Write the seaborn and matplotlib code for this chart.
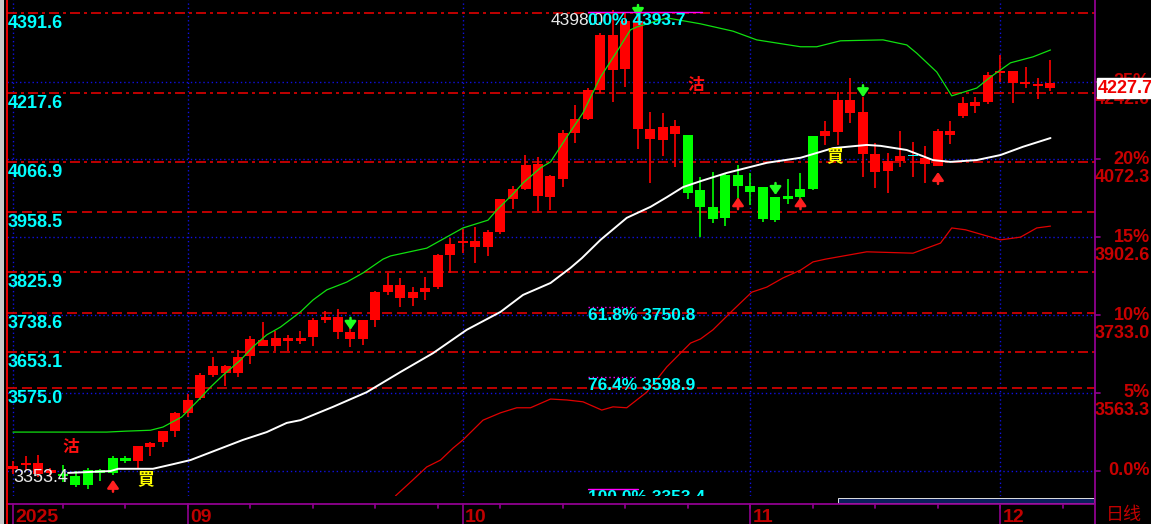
import matplotlib
matplotlib.use("Agg")
import matplotlib.pyplot as plt
import matplotlib.transforms as mtransforms
from matplotlib.patches import Rectangle
from matplotlib.lines import Line2D
import numpy as np
import seaborn as sns

# ---- daily candles (bar 0 = first bar on screen) ----
body_hi = [3404, 3411, 3411, 3395, 3387, 3382, 3395, 3395, 3422, 3422,
           3448, 3454, 3480, 3520, 3548, 3602, 3622, 3622, 3642, 3681,
           3679, 3683, 3683, 3683, 3722, 3729, 3729, 3696, 3722, 3783,
           3799, 3799, 3783, 3792, 3864, 3888, 3895, 3895, 3914, 3986,
           4008, 4060, 4062, 4036, 4130, 4161, 4224, 4344, 4344, 4374,
           4374, 4139, 4143, 4145, 4126, 4006, 3969, 4038, 4038, 4014,
           4012, 3990, 3993, 4008, 4124, 4134, 4202, 4202, 4176, 4084,
           4069, 4080, 4080, 4076, 4134, 4134, 4195, 4198, 4256, 4265,
           4265, 4241, 4237, 4239]
body_lo = [3398, 3406, 3387, 3389, 3382, 3363, 3363, 3389, 3389, 3415,
           3415, 3445, 3456, 3480, 3520, 3552, 3602, 3607, 3607, 3644,
           3666, 3666, 3677, 3677, 3685, 3722, 3696, 3681, 3681, 3722,
           3783, 3770, 3770, 3783, 3794, 3864, 3890, 3882, 3882, 3914,
           3986, 4008, 3993, 3990, 4030, 4130, 4161, 4224, 4267, 4270,
           4139, 4117, 4115, 4128, 3999, 3969, 3943, 3945, 4014, 4001,
           3943, 3940, 3986, 3990, 4008, 4124, 4132, 4174, 4084, 4045,
           4047, 4069, 4079, 4062, 4058, 4126, 4167, 4189, 4198, 4261,
           4239, 4237, 4232, 4227.7]
high = [3415, 3426, 3428, 3400, 3406, 3393, 3400, 3398, 3426, 3426,
        3448, 3456, 3480, 3522, 3561, 3607, 3642, 3624, 3657, 3687,
        3718, 3698, 3690, 3698, 3727, 3742, 3746, 3705, 3722, 3786,
        3825, 3814, 3794, 3816, 3866, 3901, 3921, 3925, 3919, 3986,
        4014, 4082, 4078, 4038, 4137, 4191, 4228, 4348, 4398, 4392,
        4393.7, 4176, 4174, 4158, 4126, 4034, 4045, 4043, 4060, 4043,
        4012, 3990, 4030, 4043, 4124, 4156, 4219, 4250, 4208, 4108,
        4086, 4134, 4110, 4102, 4139, 4156, 4208, 4208, 4263, 4300,
        4265, 4274, 4250, 4289]
low = [3387, 3395, 3380, 3382, 3369, 3358, 3353.4, 3371, 3384, 3411,
       3400, 3426, 3445, 3467, 3511, 3548, 3598, 3578, 3598, 3626,
       3666, 3655, 3655, 3670, 3666, 3716, 3681, 3664, 3668, 3707,
       3777, 3751, 3753, 3766, 3790, 3825, 3868, 3847, 3862, 3910,
       3964, 4006, 3960, 3962, 4012, 4108, 4158, 4217, 4198, 4230,
       4095, 4021, 4080, 4056, 3986, 3903, 3934, 3927, 3984, 3973,
       3936, 3936, 3975, 3971, 4006, 4104, 4104, 4152, 4034, 4010,
       3999, 4056, 4034, 4021, 4058, 4106, 4163, 4174, 4193, 4241,
       4195, 4228, 4204, 4222]
# r = red bar, g = green bar, c = cyan doji
candle_kind = ("rrrrgggggg" "rrrrrrrrrr" "rrrrrrrrrr" "rrrrrrrrrr" "rrrrrrrrrr"
               "rrrrgggggg" "gggggrrrrr" "rrcrrrrrrr" "rrrr")

# ---- band lines (bar position, price) ----
upper_x = [0, 7.5, 9, 11, 12, 13.5, 14.7, 15.8, 16.8, 18.2, 19.2, 20.3, 21.4, 23, 24,
           25.1, 26.7, 28, 29.6, 30.2, 33.1, 36, 38, 38.7, 40, 40.8, 42.2, 43, 44.3,
           45.6, 47, 48.3, 49.4, 49.9, 52.3, 55, 57.6, 59.5, 63, 64.3, 66.2, 69.6,
           71.5, 72.3, 73.9, 75.1, 77.1, 78.2, 79.8, 81.6, 83]
upper_y = [3478, 3478, 3480, 3482, 3489, 3511, 3544, 3576, 3602, 3635, 3664, 3690,
           3707, 3740, 3766, 3788, 3805, 3825, 3855, 3862, 3879, 3923, 3940, 3962,
           3997, 4021, 4054, 4067, 4121, 4174, 4252, 4307, 4355, 4361, 4381, 4368,
           4352, 4333, 4318, 4318, 4331, 4333, 4322, 4304, 4263, 4211, 4228, 4252,
           4283, 4296, 4311]
mid_x = [4.4, 7.8, 8.4, 11.2, 12.8, 14.2, 16.3, 18.4, 20.3, 21.9, 23, 25.6, 28.3, 31,
         33.6, 36.3, 39, 40.8, 43, 44.6, 45.5, 47, 49.1, 51, 52.3, 53.6, 55, 57.1,
         60.3, 63, 65.6, 68.3, 69.4, 71.5, 73.6, 75, 77.1, 79, 80.8, 83]
mid_y = [3389, 3393, 3398, 3398, 3408, 3417, 3439, 3461, 3478, 3498, 3504, 3533,
         3565, 3609, 3650, 3701, 3740, 3777, 3803, 3836, 3857, 3897, 3945, 3969,
         3990, 4012, 4025, 4043, 4065, 4076, 4097, 4104, 4102, 4093, 4071, 4067,
         4071, 4082, 4100, 4119]
lower_x = [30.6, 32, 33.1, 34.2, 35.2, 36, 37.6, 39, 40.3, 41.4, 43, 44.3, 45.6,
           47.1, 48, 49.1, 50.7, 52.3, 54.2, 55, 56, 57.6, 59.1, 60.3, 61.6, 63, 64,
           65, 68.3, 72, 74.2, 75.1, 76.2, 79, 80.6, 81.9, 83]
lower_y = [3339, 3374, 3402, 3417, 3443, 3461, 3504, 3520, 3531, 3531, 3550, 3548,
           3544, 3526, 3533, 3531, 3565, 3620, 3672, 3681, 3701, 3744, 3783, 3794,
           3814, 3831, 3849, 3855, 3871, 3868, 3890, 3923, 3919, 3897, 3903, 3923,
           3927]

# ---- reference levels ----
level_prices = [4391.6, 4217.6, 4066.9, 3958.5, 3825.9, 3738.6, 3653.1, 3575.0]
pct_labels = ["0.0%", "5%", "10%", "15%", "20%", "25%"]
pct_prices = [3393.6, 3563.3, 3733.0, 3902.6, 4072.3, 4242.0]
fib_labels = ["0.0%", "61.8%", "76.4%", "100.0%"]
fib_prices = [4393.7, 3750.8, 3598.9, 3353.4]
top_high = 4398.0
bottom_low = 3353.4
last_close = 4227.7

month_idx = [0, 14, 36, 59, 79]
month_labels = ["2025", "09", "10", "11", "12"]

# signals
up_idx = [8, 58, 63, 74]
up_tip = [3374, 3990, 3990, 4045]
down_idx = [27, 50, 61, 68]
down_tip = [3701, 4383, 3995, 4208]
sig_text = ["沽", "買", "沽", "買"]
sig_x = [4.6, 10.6, 54.6, 65.7]
sig_y = [3445, 3376, 4235, 4080]

# ---- figure ----
W, H = 1151, 524
sns.set_theme(style="dark", rc={"axes.facecolor": "black", "figure.facecolor": "black",
                                "axes.grid": False})
plt.rcParams["font.family"] = ["Liberation Sans", "Noto Sans CJK TC", "DejaVu Sans"]

fig = plt.figure(figsize=(W / 100, H / 100), dpi=100)
ax = fig.add_axes([7 / W, (H - 496) / H, 1088 / W, 496 / H])
ax.set_xlim(-0.48, 86.56)
ax.set_ylim(3338.66, 4419.94)
ax.set_xticks([])
ax.set_yticks([])
for s in ax.spines.values():
    s.set_visible(False)


def fx(px):
    return px / W


def fy(py):
    return (H - py) / H


RED = "#FF0000"
DARKRED = "#C80000"
GREEN = "#00FF00"
CYAN = "#00FFFF"
PURPLE = "#900090"
BLUE = "#1010E0"
MAGENTA = "#FF00FF"

# grid: blue dotted at percent levels and month starts
for p in pct_prices:
    ax.axhline(p, color=BLUE, lw=1.0, ls=(0, (1, 2)), zorder=1)
for m in month_idx:
    ax.axvline(m, color=BLUE, lw=1.0, ls=(0, (1, 2)), zorder=1)

# red level lines
lvl_styles = ["dd", "dd", "dd", "d", "dd", "d", "dd", "d"]
for p, st in zip(level_prices, lvl_styles):
    ls = (0, (6, 2.4, 1.8, 2.4)) if st == "dd" else (0, (6, 3))
    ax.axhline(p, color="#E00000", lw=1.2, ls=ls, zorder=1)

# candles
idx = np.arange(len(high))
bh = np.array(body_hi, dtype=float)
bl = np.array(body_lo, dtype=float)
body_col = [{"r": RED, "g": GREEN, "c": CYAN}[k] for k in candle_kind]
wick_col = [GREEN if k == "g" else RED for k in candle_kind]
ax.vlines(idx, low, high, colors=wick_col, lw=1.2, zorder=3)
hgt = np.maximum(bh - bl, 2.2)
ax.bar(idx, hgt, bottom=bl, width=0.8, color=body_col, linewidth=0, zorder=4)

# bands
sns.lineplot(x=upper_x, y=upper_y, ax=ax, color="#10E010", lw=0.9, sort=False,
             estimator=None, zorder=5)
sns.lineplot(x=mid_x, y=mid_y, ax=ax, color="white", lw=1.4, sort=False,
             estimator=None, zorder=5)
sns.lineplot(x=lower_x, y=lower_y, ax=ax, color="#E00000", lw=0.9, sort=False,
             estimator=None, zorder=5)

# arrows
arrow_style = "-|>,head_length=0.4,head_width=0.28"
for i, t in zip(up_idx, up_tip):
    ax.annotate("", xy=(i, t), xytext=(i, t - 26),
                arrowprops=dict(arrowstyle=arrow_style, color="#FF2020", lw=1.8,
                                shrinkA=0, shrinkB=0), zorder=6)
for i, t in zip(down_idx, down_tip):
    ax.annotate("", xy=(i, t), xytext=(i, t + 26),
                arrowprops=dict(arrowstyle=arrow_style, color="#20FF20", lw=1.8,
                                shrinkA=0, shrinkB=0), zorder=6)

for t, x, y in zip(sig_text, sig_x, sig_y):
    ax.text(x, y, t, color="#FF1010" if t == "沽" else "#FFFF00", fontsize=12,
            fontweight="bold", ha="center", va="center", family=["Noto Sans CJK TC"],
            zorder=7)

# fibonacci markers
fib_end = [55.1, 50, 50, 50]
for k, (lbl, p) in enumerate(zip(fib_labels, fib_prices)):
    ls = "-" if k in (0, 3) else (0, (1, 2))
    ax.plot([46, fib_end[k]], [p, p], color=MAGENTA, lw=1.0, ls=ls, zorder=6)
    ax.text(46, p, f"{lbl} {p:.1f}", color=CYAN, fontsize=12.5, fontweight="bold",
            ha="left", va="top", zorder=8, clip_on=True,
            transform=mtransforms.offset_copy(ax.transData, fig=fig, x=0, y=-1, units="dots"))

# high / low markers
ax.text(43.0, fib_prices[0], f"{top_high:.1f}", color="#E8E8E8", fontsize=12.5,
        ha="left", va="top", zorder=7,
        transform=mtransforms.offset_copy(ax.transData, fig=fig, x=0, y=-1, units="dots"))
ax.text(0, bottom_low, f"{bottom_low:.1f}", color="#E8E8E8", fontsize=13,
        ha="left", va="baseline", zorder=7,
        transform=mtransforms.offset_copy(ax.transData, fig=fig, x=0, y=7, units="dots"))

# left level labels
bl_y = mtransforms.blended_transform_factory(fig.transFigure, ax.transData)
for p in level_prices:
    ax.text(fx(8), p, f"{p:.1f}", color=CYAN, fontsize=13, fontweight="bold",
            ha="left", va="top", zorder=8, clip_on=False,
            transform=mtransforms.offset_copy(bl_y, fig=fig, x=0, y=-2, units="dots"))

# right percent axis
for lbl, p in zip(pct_labels, pct_prices):
    ax.add_line(Line2D([fx(1095), fx(1100)], [p, p], transform=bl_y, color=PURPLE,
                       lw=1.2, clip_on=False))
    ax.text(fx(1150), p, lbl, color=DARKRED, fontsize=13, fontweight="bold",
            ha="right", va="center", clip_on=False, transform=bl_y, zorder=8)
    if lbl != "0.0%":
        ax.text(fx(1150), p, f"{p:.1f}", color=DARKRED, fontsize=13, fontweight="bold",
                ha="right", va="center", clip_on=False, zorder=8,
                transform=mtransforms.offset_copy(bl_y, fig=fig, x=0, y=-18, units="dots"))

ax.text(fx(1098), last_close, f"{last_close:.1f}", color="#F00000", fontsize=13,
        fontweight="bold", ha="left", va="center", clip_on=False, transform=bl_y, zorder=12,
        bbox=dict(boxstyle="square,pad=0.08", fc="white", ec="white"))

# bottom time axis
bl_x = mtransforms.blended_transform_factory(ax.transData, fig.transFigure)
for m in range(4, 87, 5):
    ax.add_line(Line2D([m, m], [fy(504), fy(508)], transform=bl_x, color=PURPLE,
                       lw=1.2, clip_on=False))
for m, lbl in zip(month_idx, month_labels):
    ax.add_line(Line2D([m, m], [fy(504), fy(524)], transform=bl_x, color=PURPLE,
                       lw=1.2, clip_on=False))
    ax.text(m, fy(509), lbl, color="#C00000", fontsize=14, fontweight="bold",
            ha="left", va="top", clip_on=False,
            transform=mtransforms.offset_copy(bl_x, fig=fig, x=2, y=0, units="dots"))

fig.add_artist(Line2D([fx(7), fx(1095)], [fy(504), fy(504)], color=PURPLE, lw=1.3))
fig.add_artist(Line2D([fx(1095), fx(1095)], [0, 1], color=PURPLE, lw=1.3))
fig.add_artist(Line2D([fx(6.5), fx(6.5)], [0, 1], color="#FF0000", lw=1.3))
fig.add_artist(Rectangle((0, 0), fx(3.5), 1, transform=fig.transFigure,
                         facecolor="#C8C8C8", edgecolor="none"))
fig.add_artist(Rectangle((fx(838), fy(502.5)), fx(1094) - fx(838), fy(497.5) - fy(502.5),
                         transform=fig.transFigure, facecolor="#0B1F5C",
                         edgecolor="#E0E0E0", lw=0.7))
fig.text(fx(1106), fy(506), "日线", color="#C00000", fontsize=13, ha="left", va="top",
         family=["Noto Sans CJK SC"])

fig.savefig("out.png", dpi=100, facecolor="black")
